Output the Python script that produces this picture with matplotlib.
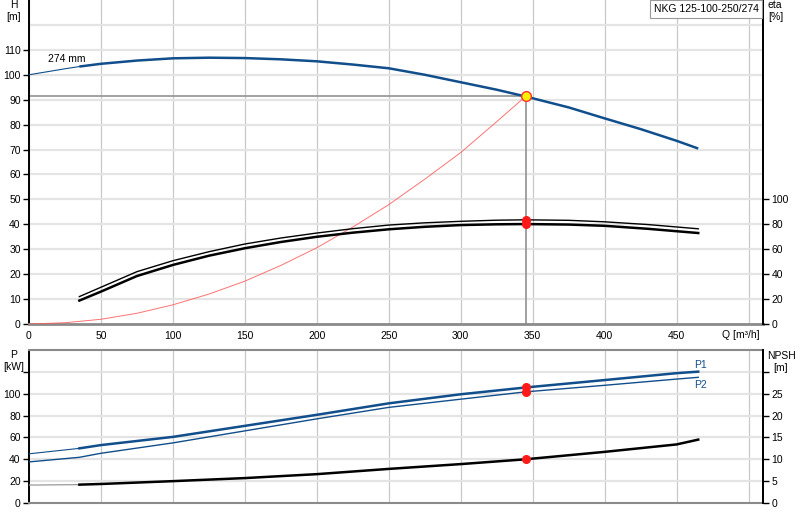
import matplotlib
matplotlib.use('Agg')
import matplotlib.pyplot as plt

plt.rcParams['font.family'] = ['Liberation Sans', 'DejaVu Sans']
plt.rcParams['font.size'] = 7.5

# ---------------- data ----------------
Q_head = [0, 25, 35, 50, 75, 100, 125, 150, 175, 200, 225, 250, 275, 300, 325, 345, 375, 400, 425, 450, 465]
H_head = [100, 102.4, 103.3, 104.4, 105.7, 106.6, 106.85, 106.7, 106.2, 105.4, 104.1, 102.6, 100.0, 97.0,
          94.0, 91.3, 86.9, 82.5, 78.2, 73.5, 70.4]
N_THIN = 3  # first points drawn as thin line (Q <= 35)

Q_sys = [0, 25, 50, 75, 100, 125, 150, 175, 200, 225, 250, 275, 300, 325, 345]
H_sys = [0, 0.5, 1.9, 4.3, 7.7, 12.0, 17.2, 23.5, 30.6, 38.9, 47.9, 58.1, 68.8, 81.2, 91.3]

Q_eta = [35, 50, 75, 100, 125, 150, 175, 200, 225, 250, 275, 300, 325, 345, 375, 400, 430, 465]
eta_upper = [22.0, 29.5, 42.0, 50.8, 58.0, 64.2, 69.0, 73.0, 76.5, 79.4, 81.2, 82.4, 83.3, 83.6, 83.2, 82.0, 79.8, 76.4]
eta_lower = [18.8, 26.0, 38.5, 47.4, 54.8, 60.8, 65.8, 70.0, 73.3, 76.0, 78.0, 79.4, 80.0, 80.2, 79.8, 78.8, 76.4, 73.0]

Q_bot = [0, 35, 50, 100, 150, 200, 250, 300, 345, 400, 450, 465]
P1 = [45.0, 50.0, 53.0, 60.5, 70.6, 80.7, 91.2, 99.5, 105.7, 112.5, 118.8, 120.2]
P2 = [37.6, 41.8, 45.5, 55.0, 66.0, 77.0, 87.5, 95.0, 101.7, 107.7, 113.4, 115.0]
NPSH = [4.1, 4.2, 4.35, 5.0, 5.7, 6.6, 7.8, 8.9, 10.0, 11.7, 13.4, 14.5]

duty_Q = 345
duty_H = 91.3
duty_eta = [83.6, 80.2]
duty_P = [105.7, 101.7]
duty_NPSH = 10.0

x_ticks = [0, 50, 100, 150, 200, 250, 300, 350, 400, 450, 500]
x_labels = ['0', '50', '100', '150', '200', '250', '300', '350', '400', '450', '']
H_ticks = [0, 10, 20, 30, 40, 50, 60, 70, 80, 90, 100, 110]
eta_ticks = [0, 20, 40, 60, 80, 100]
P_ticks = [0, 20, 40, 60, 80, 100, 120]
P_labels = ['0', '20', '40', '60', '80', '100', '']
NPSH_ticks = [0, 5, 10, 15, 20, 25, 30]
NPSH_labels = ['0', '5', '10', '15', '20', '25', '']

pump_name = 'NKG 125-100-250/274'
imp_label = '274 mm'

# ---------------- styling ----------------
BLUE = '#114e8c'
HGRID = '#e4e4e4'
VGRID = '#c8c8c8'
SPINE_GRAY = '#8a8a8a'
W, Hh = 800, 520

fig = plt.figure(figsize=(8, 5.2), dpi=100)


def fx(px):
    return px / W


def fy(py):
    return 1 - py / Hh


# top axes
ax = fig.add_axes([fx(29), fy(324), fx(763) - fx(29), fy(0) - fy(324)])
ax.set_xlim(0, 510)
ax.set_ylim(0, 130)

for v in x_ticks:
    ax.axvline(v, color=VGRID, lw=0.9, zorder=0)
for h in H_ticks[1:] + [120]:
    ax.axhline(h, color=HGRID, lw=1.6, zorder=0)

ax.set_xticks(x_ticks)
ax.set_xticklabels(x_labels)
ax.set_yticks(H_ticks)
ax.tick_params(axis='x', length=0, pad=5, labelsize=7.5)
ax.tick_params(axis='y', direction='out', length=4, width=1, pad=2, labelsize=7.5)

ax.spines['top'].set_visible(False)
ax.spines['left'].set_color('black')
ax.spines['left'].set_linewidth(1.4)
ax.spines['right'].set_color('black')
ax.spines['right'].set_linewidth(1.4)
ax.spines['bottom'].set_color(SPINE_GRAY)
ax.spines['bottom'].set_linewidth(2.0)

# head curve: thin start, thick remainder
ax.plot(Q_head[:N_THIN], H_head[:N_THIN], color=BLUE, lw=0.8, zorder=4)
ax.plot(Q_head[N_THIN - 1:], H_head[N_THIN - 1:], color=BLUE, lw=1.8, zorder=4, solid_capstyle='butt')

# system curve
ax.plot(Q_sys, H_sys, color='#ff5a5a', lw=0.7, alpha=0.85, zorder=3)

# duty lines
ax.plot([0, duty_Q], [duty_H, duty_H], color='#9a9a9a', lw=1.3, zorder=2)
ax.plot([duty_Q, duty_Q], [0, duty_H], color='#9a9a9a', lw=1.3, zorder=2)
ax.plot([duty_Q], [duty_H], 'o', ms=7, mfc='#ffee00', mec='#ff3030', mew=1.0, zorder=6)

ax.text(13, 104.5, imp_label, fontsize=7.5, ha='left', va='bottom')

# efficiency axis
axe = ax.twinx()
axe.set_ylim(0, 260)
axe.set_yticks(eta_ticks)
axe.tick_params(axis='y', direction='out', length=4, width=1, pad=2, labelsize=7.5)
for s in ['top', 'left', 'bottom']:
    axe.spines[s].set_visible(False)
axe.spines['right'].set_color('black')
axe.spines['right'].set_linewidth(1.4)
axe.plot(Q_eta, eta_upper, color='black', lw=1.0, zorder=4)
axe.plot(Q_eta, eta_lower, color='black', lw=1.8, zorder=4)
axe.plot([duty_Q, duty_Q], duty_eta, 'o', ms=5.5, color='#ff1a1a', mec='#ff1a1a', zorder=6)

# pump name box
fig.text(fx(706), fy(9), pump_name, ha='center', va='center', fontsize=7.5,
         bbox=dict(boxstyle='square,pad=0.35', fc='white', ec='#999999', lw=0.8))

# axis labels
fig.text(fx(14), fy(5), 'H', ha='center', va='center', fontsize=7.5)
fig.text(fx(14), fy(17), '[m]', ha='center', va='center', fontsize=7.5)
fig.text(fx(768), fy(5), 'eta', ha='left', va='center', fontsize=7.5)
fig.text(fx(768), fy(17), '[%]', ha='left', va='center', fontsize=7.5)
fig.text(fx(722), fy(335), 'Q [m\u00b3/h]', ha='left', va='center', fontsize=7.5)

# bottom axes
ax2 = fig.add_axes([fx(29), fy(503), fx(763) - fx(29), fy(350) - fy(503)])
ax2.set_xlim(0, 510)
ax2.set_ylim(0, 140)
for v in x_ticks:
    ax2.axvline(v, color=VGRID, lw=0.9, zorder=0)
for h in P_ticks[1:]:
    ax2.axhline(h, color=HGRID, lw=1.6, zorder=0)
ax2.set_xticks([])
ax2.set_yticks(P_ticks)
ax2.set_yticklabels(P_labels)
ax2.tick_params(axis='y', direction='out', length=4, width=1, pad=2, labelsize=7.5)
ax2.spines['top'].set_color(SPINE_GRAY)
ax2.spines['top'].set_linewidth(1.5)
ax2.spines['bottom'].set_color(SPINE_GRAY)
ax2.spines['bottom'].set_linewidth(1.5)
ax2.spines['left'].set_color('black')
ax2.spines['left'].set_linewidth(1.4)
ax2.spines['right'].set_color('black')
ax2.spines['right'].set_linewidth(1.4)

ax2.plot(Q_bot[:2], P1[:2], color=BLUE, lw=0.8, zorder=4)
ax2.plot(Q_bot[1:], P1[1:], color=BLUE, lw=1.8, zorder=4)
ax2.plot(Q_bot, P2, color=BLUE, lw=1.0, zorder=4)
ax2.plot([duty_Q, duty_Q], duty_P, 'o', ms=5.5, color='#ff1a1a', zorder=6)
ax2.text(462, 122, 'P1', color=BLUE, fontsize=7.5, ha='left', va='bottom')
ax2.text(462, 113, 'P2', color=BLUE, fontsize=7.5, ha='left', va='top')

axn = ax2.twinx()
axn.set_ylim(0, 35)
axn.set_yticks(NPSH_ticks)
axn.set_yticklabels(NPSH_labels)
axn.tick_params(axis='y', direction='out', length=4, width=1, pad=2, labelsize=7.5)
for s in ['top', 'left', 'bottom']:
    axn.spines[s].set_visible(False)
axn.spines['right'].set_color('black')
axn.spines['right'].set_linewidth(1.4)
axn.plot(Q_bot[:2], NPSH[:2], color='#999999', lw=0.9, zorder=4)
axn.plot(Q_bot[1:], NPSH[1:], color='black', lw=1.8, zorder=4)
axn.plot([duty_Q], [duty_NPSH], 'o', ms=5.5, color='#ff1a1a', zorder=6)

fig.text(fx(14), fy(355), 'P', ha='center', va='center', fontsize=7.5)
fig.text(fx(14), fy(367), '[kW]', ha='center', va='center', fontsize=7.5)
fig.text(fx(781), fy(356), 'NPSH', ha='center', va='center', fontsize=7.5)
fig.text(fx(781), fy(368), '[m]', ha='center', va='center', fontsize=7.5)

fig.savefig('out.png', dpi=100)
